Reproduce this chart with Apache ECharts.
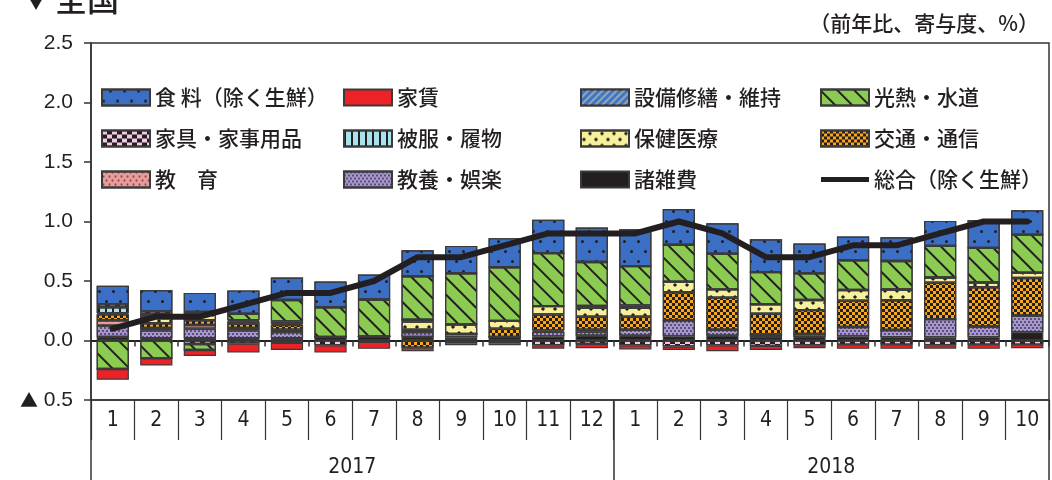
<!DOCTYPE html>
<html><head><meta charset="utf-8">
<script src="https://cdn.jsdelivr.net/npm/echarts@6/dist/echarts.min.js"></script>
<style>html,body{margin:0;padding:0;background:#fff}#c{width:1052px;height:480px}</style>
</head><body><div id="c"></div>
<script>
// ---- data ----
const months = ['1','2','3','4','5','6','7','8','9','10','11','12','1','2','3','4','5','6','7','8','9','10'];
const yearLabels = {6: '2017', 17: '2018'};
const food    = [0.155,0.18,0.16,0.196,0.19,0.215,0.21,0.22,0.23,0.245,0.28,0.29,0.31,0.30,0.255,0.275,0.25,0.20,0.20,0.21,0.235,0.205];
const rent    = [-0.09,-0.06,-0.05,-0.075,-0.06,-0.06,-0.06,-0.03,-0.03,-0.03,-0.03,-0.035,-0.035,-0.03,-0.05,-0.035,-0.025,-0.035,-0.035,-0.03,-0.035,-0.03];
const repair  = [0,0,0,0,0,0,0,0,0,0,0,0,0,0,0,0,0,0,0,0,0,0];
const utility = [-0.24,-0.15,-0.05,0.055,0.18,0.25,0.31,0.364,0.43,0.45,0.445,0.37,0.33,0.31,0.30,0.27,0.225,0.25,0.24,0.265,0.29,0.32];
const furniture = [0.025,0.025,-0.03,-0.025,-0.02,-0.04,-0.01,0,-0.01,-0.01,-0.04,-0.03,-0.04,-0.05,-0.04,-0.045,-0.04,-0.035,-0.035,-0.04,-0.035,-0.035];
const clothing  = [0.05,0.02,0.02,0.01,0.02,0,0,0.015,0,0,0,0.015,0.02,0,0,0,0,0,0,0,0,0];
const medical   = [0.01,0.055,0.05,0.02,0.01,0,0,0.07,0.08,0.065,0.07,0.075,0.075,0.09,0.07,0.08,0.085,0.09,0.09,0.045,0.04,0.045];
const transport = [0.05,0.04,0.04,0.035,0.04,0,0,-0.06,0,0.07,0.135,0.11,0.11,0.235,0.27,0.175,0.20,0.22,0.25,0.305,0.33,0.315];
const education = [0.045,0.02,0.03,0.02,0.02,0,0,0.02,0,0,0.01,0.015,0,0,0,0,0,0,0,0,0,0];
const culture   = [0.095,0.065,0.08,0.065,0.05,0,0,0.04,0.03,0,0.04,0.035,0.05,0.135,0.05,0.02,0.025,0.08,0.06,0.155,0.09,0.14];
const misc      = [0.03,0.02,0.02,0.02,0.02,0.03,0.034,0.03,0.025,0.03,0.034,0.04,0.04,0.035,0.04,0.03,0.03,0.034,0.028,0.025,0.028,0.07];
const total     = [0.1,0.2,0.2,0.3,0.4,0.4,0.5,0.7,0.7,0.8,0.9,0.9,0.9,1.0,0.9,0.7,0.7,0.8,0.8,0.9,1.0,1.0];

const N = {
  food:'食 料（除く生鮮）', rent:'家賃', repair:'設備修繕・維持', utility:'光熱・水道',
  furniture:'家具・家事用品', clothing:'被服・履物', medical:'保健医療', transport:'交通・通信',
  education:'教　育', culture:'教養・娯楽', misc:'諸雑費', total:'総合（除く生鮮）'
};

// ---- styles ----
const CJK = "'Noto Sans CJK JP', sans-serif";
const NUM = "'Liberation Sans', Arial, sans-serif";
const NARROW = "'Liberation Sans Narrow', 'DejaVu Sans Condensed', sans-serif";
const INK = '#231F20';
const BORDER = '#3a3a3a';

const styles = {
  food: {color:'#3B6FC6', decal:{symbol:'circle', color:INK, symbolSize:1, dashArrayX:[[2.5,11],[0,6.5,2.5,4]], dashArrayY:[2.5,7]}},
  rent: {color:'#EC2227'},
  repair: {color:'#3D78C8', decal:{symbol:'rect', color:'#9aa4b0', dashArrayX:[1,0], dashArrayY:[2,3], rotation:-Math.PI/4}},
  utility: {color:'#8CCB52', decal:{symbol:'rect', color:INK, dashArrayX:[1,0], dashArrayY:[2,10], rotation:Math.PI/4}},
  furniture: {color:'#F4C9E6', decal:{symbol:'rect', color:INK, dashArrayX:[[5,5],[0,5,5,0]], dashArrayY:[4,0]}},
  clothing: {color:'#A6E3EC', decal:{symbol:'rect', color:INK, dashArrayX:[2,5], dashArrayY:[1,0]}},
  medical: {color:'#F7F09A', decal:{symbol:'diamond', color:INK, symbolSize:0.7, dashArrayX:[[6,6],[0,6,6,0]], dashArrayY:[6,0]}},
  transport: {color:'#F8A81E', decal:{symbol:'rect', color:INK, dashArrayX:[[3,3],[0,3,3,0]], dashArrayY:[3,0]}},
  education: {color:'#E89C9C', decal:{symbol:'circle', color:'#7a3a3a', dashArrayX:[[3,3],[0,3,3,0]], dashArrayY:[2,2]}},
  culture: {color:'#A797CC', decal:{symbol:'circle', color:'#3a2f55', symbolSize:0.9, dashArrayX:[[2,2],[0,2,2,0]], dashArrayY:[2,1]}},
  misc: {color:INK}
};

const dataMap = {food, rent, repair, utility, furniture, clothing, medical, transport, education, culture, misc};
// stacking order from the zero line outward
const stackOrder = ['misc','culture','education','transport','medical','clothing','furniture','utility','repair','rent','food'];

const series = stackOrder.map(k => ({
  name: N[k], type: 'bar', stack: 'all', xAxisIndex: 0, barWidth: '74%',
  data: dataMap[k],
  itemStyle: Object.assign({borderColor: BORDER, borderWidth: 1.2}, styles[k]),
  emphasis: {disabled: true}
}));
series.push({
  name: N.total, type: 'line', data: total, xAxisIndex: 0, z: 5,
  symbol: 'none', showSymbol: false, color: INK,
  lineStyle: {color: INK, width: 6, join: 'round', cap: 'round'}
});

const legendCommon = {
  orient: 'vertical', itemWidth: 48, itemHeight: 16, itemGap: 20, padding: 0,
  textStyle: {fontFamily: CJK, fontSize: 21, fontWeight: 500, color: INK}, selectedMode: false
};
const li = (k) => k === 'total'
  ? {name: N[k], icon: 'path://M0,0 L48,0 L48,5 L0,5 Z', itemStyle: {color: INK, borderWidth: 0}}
  : {name: N[k], icon: 'rect'};
const legends = [
  Object.assign({left: 101, top: 87, data: ['food','furniture','education'].map(li)}, legendCommon),
  Object.assign({left: 343, top: 87, data: ['rent','clothing','culture'].map(li)}, legendCommon),
  Object.assign({left: 580, top: 87, data: ['repair','medical','misc'].map(li)}, legendCommon),
  Object.assign({left: 820, top: 87, data: ['utility','transport','total'].map(li)}, legendCommon)
];

const chart = echarts.init(document.getElementById('c'), null, {renderer: 'canvas'});
chart.setOption({
  animation: false,
  backgroundColor: '#fff',
  title: [
    {text: '▼', left: 22, top: -12, textStyle: {fontFamily: CJK, fontSize: 18, color: INK, fontWeight: 'normal'}},
    {text: '全国', left: 50, top: -22, textStyle: {fontFamily: CJK, fontSize: 32, color: INK, fontWeight: 500}},
    {text: '（前年比、寄与度、%）', right: 8, top: 8, textStyle: {fontFamily: CJK, fontSize: 21, color: INK, fontWeight: 500}}
  ],
  legend: legends,
  grid: {left: 91, right: 1, top: 43, bottom: 80, show: true, borderColor: '#333', borderWidth: 1.5, backgroundColor: 'transparent'},
  xAxis: [
    {type: 'category', data: months, position: 'bottom',
     axisLine: {onZero: true, lineStyle: {color: '#222', width: 2}},
     axisTick: {show: true, length: 6, lineStyle: {color: '#333', width: 1.5}},
     axisLabel: {show: false}, splitLine: {show: false}},
    {type: 'category', data: months, position: 'bottom',
     axisLine: {onZero: false, lineStyle: {color: '#333', width: 1.5}},
     axisTick: {show: true, length: 40, lineStyle: {color: '#333', width: 1.2}},
     axisLabel: {show: true, margin: 10, fontFamily: NARROW, fontSize: 21, color: INK}},
    {type: 'value', min: 0, max: 22, interval: 12, position: 'bottom',
     axisLine: {show: false, onZero: false},
     axisTick: {show: true, length: 80, lineStyle: {color: '#333', width: 1.5}},
     axisLabel: {show: false}, splitLine: {show: false}},
    {type: 'value', min: 0, max: 22, interval: 1, position: 'bottom',
     axisLine: {show: false, onZero: false}, axisTick: {show: false}, splitLine: {show: false},
     axisLabel: {show: true, margin: 57, fontFamily: NARROW, fontSize: 21, color: INK,
       formatter: v => yearLabels[v] || ''}}
  ],
  yAxis: {
    type: 'value', min: -0.5, max: 2.5, interval: 0.5,
    axisLine: {show: true, lineStyle: {color: '#333', width: 1.5}},
    axisTick: {show: true, length: 7, lineStyle: {color: '#333', width: 1.5}},
    splitLine: {show: false},
    axisLabel: {margin: 18, fontFamily: NUM, fontSize: 21, color: INK,
      formatter: v => v < 0 ? '{t|▲} ' + Math.abs(v).toFixed(1) : v.toFixed(1),
      rich: {t: {fontFamily: CJK, fontSize: 18, color: INK}}}
  },
  series: series
});
</script></body></html>
